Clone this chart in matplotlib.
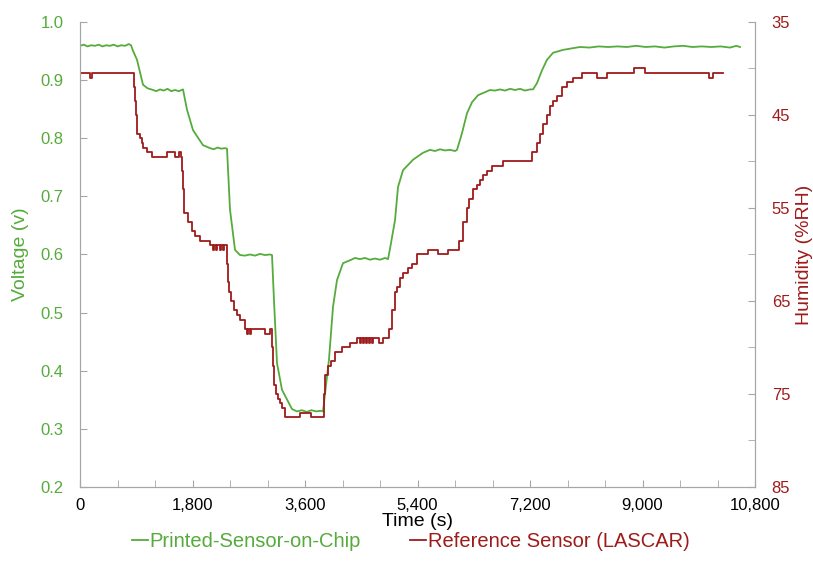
import matplotlib
matplotlib.use("Agg")
import matplotlib.pyplot as plt
from matplotlib.ticker import MultipleLocator, FixedLocator, FuncFormatter

plt.rcParams['font.family'] = ['Liberation Sans', 'DejaVu Sans']

# Printed sensor voltage (V) vs time (s)
green_time = [0, 60, 120, 180, 240, 300, 360, 420, 480, 540, 600, 660, 720, 780, 816,
              850, 912, 1008, 1080, 1168, 1220, 1280, 1340, 1400, 1460, 1520, 1580, 1648,
              1712, 1808, 1968, 2080, 2140, 2200, 2260, 2320, 2352,
              2400, 2480, 2560, 2640, 2720, 2800, 2880, 2960, 3040, 3072,
              3104, 3152, 3232, 3392, 3470, 3550, 3630, 3700, 3780, 3850, 3888,
              3920, 3984, 4048, 4112, 4208, 4320, 4400, 4480, 4560, 4640, 4720, 4800, 4880, 4928,
              4960, 5040, 5088, 5168, 5328, 5488, 5600, 5680, 5760, 5840, 5920, 6000, 6032,
              6112, 6192, 6272, 6368, 6560, 6640, 6720, 6800, 6880, 6960, 7040, 7120, 7200, 7248,
              7312, 7392, 7472, 7568, 7728, 7888, 8000, 8150, 8300, 8450, 8600, 8750, 8900,
              9050, 9200, 9350, 9500, 9650, 9800, 9950, 10100, 10250, 10400, 10500, 10560]
green_volt = [0.959, 0.961, 0.958, 0.960, 0.959, 0.961, 0.958, 0.960, 0.959, 0.961, 0.958, 0.960, 0.959, 0.962, 0.960,
              0.950, 0.935, 0.892, 0.886, 0.883, 0.881, 0.884, 0.882, 0.885, 0.881, 0.883, 0.881, 0.884,
              0.849, 0.814, 0.788, 0.783, 0.781, 0.784, 0.782, 0.783, 0.782,
              0.677, 0.608, 0.599, 0.598, 0.600, 0.598, 0.601, 0.599, 0.600, 0.599,
              0.520, 0.413, 0.367, 0.334, 0.330, 0.332, 0.329, 0.332, 0.330, 0.331, 0.330,
              0.360, 0.420, 0.510, 0.556, 0.585, 0.590, 0.594, 0.592, 0.594, 0.591, 0.593, 0.591, 0.594, 0.592,
              0.610, 0.659, 0.716, 0.745, 0.763, 0.775, 0.780, 0.778, 0.781, 0.779, 0.780, 0.778, 0.780,
              0.809, 0.843, 0.862, 0.874, 0.883, 0.882, 0.884, 0.882, 0.885, 0.883, 0.885, 0.882, 0.884, 0.884,
              0.895, 0.917, 0.935, 0.947, 0.952, 0.955, 0.957, 0.956, 0.958, 0.957, 0.958, 0.957, 0.959,
              0.957, 0.958, 0.956, 0.958, 0.959, 0.957, 0.958, 0.957, 0.958, 0.956, 0.959, 0.957]

# Reference sensor humidity (%RH), stepwise readings
red_time = [0, 160, 192, 864, 880, 896, 912, 960, 992, 1008, 1072, 1152, 1392, 1520, 1584, 1616,
            1632, 1648, 1664, 1728, 1792, 1840, 1920, 2080, 2128, 2144, 2176, 2192, 2240, 2256, 2288, 2304,
            2352, 2368, 2384, 2416, 2464, 2512, 2560, 2640, 2672, 2688, 2720, 2736, 2960, 3040,
            3072, 3088, 3104, 3136, 3168, 3200, 3232, 3280, 3520, 3696,
            3904, 3920, 3968, 4016, 4080, 4192, 4320, 4432, 4480, 4496, 4528, 4544, 4576, 4592,
            4624, 4640, 4672, 4688, 4784, 4848,
            4944, 4992, 5040, 5072, 5120, 5168, 5248, 5312, 5392, 5568, 5728, 5888,
            6064, 6128, 6192, 6224, 6288, 6352, 6400, 6448, 6512, 6592, 6672, 6768,
            7232, 7312, 7360, 7408, 7472, 7520, 7568, 7632, 7712, 7792, 7888,
            8032, 8272, 8432, 8864, 9040, 10064, 10128, 10288]
red_rh = [40.5, 41.0, 40.5, 42.0, 43.5, 45.0, 47.0, 47.5, 48.0, 48.5, 49.0, 49.5, 49.0, 49.5, 49.0, 49.5,
          51.0, 53.0, 55.5, 56.5, 57.5, 58.0, 58.5, 59.0, 59.5, 59.0, 59.5, 59.0, 59.5, 59.0, 59.5, 59.0,
          61.0, 63.0, 64.0, 65.0, 66.0, 66.5, 67.0, 68.0, 68.5, 68.0, 68.5, 68.0, 68.5, 68.0,
          70.0, 72.0, 74.0, 75.0, 75.5, 76.0, 76.5, 77.5, 77.0, 77.5,
          75.0, 73.0, 72.0, 71.5, 70.5, 70.0, 69.5, 69.0, 69.5, 69.0, 69.5, 69.0, 69.5, 69.0,
          69.5, 69.0, 69.5, 69.0, 69.5, 69.0,
          68.0, 66.0, 64.0, 63.5, 62.5, 62.0, 61.5, 61.0, 60.0, 59.5, 60.0, 59.5,
          58.5, 56.5, 55.0, 54.0, 53.0, 52.5, 52.0, 51.5, 51.0, 50.5, 50.5, 50.0,
          49.0, 48.0, 47.0, 46.0, 45.0, 44.0, 43.5, 43.0, 42.0, 41.5, 41.0,
          40.5, 41.0, 40.5, 40.0, 40.5, 41.0, 40.5, 40.5]

rh_ticks = [35, 45, 55, 65, 75, 85]
rh_minor = [40, 50, 60, 70, 80]

green = '#55ab3b'
red = '#9e1b1b'
grey = '#a6a6a6'

fig = plt.figure(figsize=(8.13, 5.79), dpi=100)
ax = fig.add_axes([0.0984, 0.159, 0.8303, 0.803])
ax2 = ax.twinx()

l1, = ax.plot(green_time, green_volt, color=green, lw=1.3, label='Printed-Sensor-on-Chip')
l2, = ax2.plot(red_time, red_rh, color=red, lw=1.3, drawstyle='steps-post',
               label='Reference Sensor (LASCAR)')

ax.set_xlim(0, 10800)
ax.set_ylim(0.2, 1.0)
ax2.set_ylim(85, 35)

ax.xaxis.set_major_locator(MultipleLocator(1800))
ax.xaxis.set_minor_locator(MultipleLocator(600))
ax.xaxis.set_major_formatter(FuncFormatter(lambda v, p: f'{int(v):,}'))
ax.yaxis.set_major_locator(MultipleLocator(0.1))
ax.yaxis.set_major_formatter(FuncFormatter(lambda v, p: f'{v:.1f}'))
ax2.yaxis.set_major_locator(FixedLocator(rh_ticks))
ax2.yaxis.set_minor_locator(FixedLocator(rh_minor))

for a in (ax, ax2):
    for s in a.spines.values():
        s.set_color(grey)
    a.spines['top'].set_visible(False)

ax.tick_params(axis='x', which='both', direction='in', length=5, color=grey,
               labelsize=12, labelcolor='black', pad=8)
ax.tick_params(axis='y', direction='in', length=5, color=grey, labelsize=12,
               labelcolor=green, pad=12)
ax2.tick_params(axis='y', which='both', direction='in', length=5, color=grey,
                labelsize=12, labelcolor=red, pad=12)

ax.set_xlabel('Time (s)', fontsize=14, labelpad=0)
ax.set_ylabel('Voltage (v)', fontsize=14, color=green, labelpad=8)
ax2.set_ylabel('Humidity (%RH)', fontsize=14, color=red, labelpad=4)

fig.legend(handles=[l1, l2], loc='center', bbox_to_anchor=(0.505, 0.064), ncol=2,
           frameon=False, fontsize=14.5, labelcolor='linecolor', handlelength=0.8,
           handletextpad=0.1, columnspacing=2.4)

fig.savefig('out.png', dpi=100)
